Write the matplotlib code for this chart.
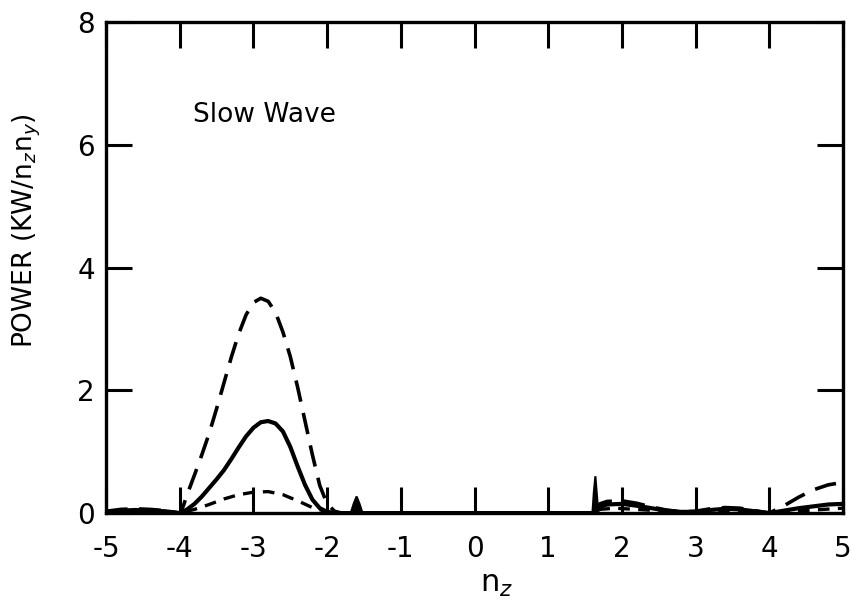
import matplotlib
matplotlib.use("Agg")
import matplotlib.pyplot as plt

plt.rcParams['axes.unicode_minus'] = False
plt.rcParams['font.family'] = ['DejaVu Sans']

# long-dashed curve (largest)
x_long = [-5.0, -4.8, -4.6, -4.4, -4.2, -4.0, -3.95, -3.9, -3.8, -3.7, -3.6, -3.5, -3.4, -3.3, -3.2, -3.1,
          -3.0, -2.9, -2.8, -2.7, -2.6, -2.5, -2.4, -2.3, -2.2, -2.1, -2.0, -1.9, -1.8,
          1.6, 1.7, 1.8, 2.0, 2.2, 2.4, 2.6, 2.8, 3.0, 3.2, 3.4, 3.6, 3.8, 4.0,
          4.2, 4.4, 4.6, 4.8, 5.0]
y_long = [0.03, 0.06, 0.07, 0.06, 0.04, 0.0, 0.12, 0.3, 0.62, 0.95, 1.3, 1.7, 2.12, 2.54, 2.92, 3.23,
          3.43, 3.5, 3.45, 3.27, 2.95, 2.55, 2.05, 1.5, 0.95, 0.45, 0.15, 0.03, 0.0,
          0.0, 0.15, 0.19, 0.2, 0.16, 0.1, 0.05, 0.02, 0.03, 0.07, 0.09, 0.08, 0.04, 0.0,
          0.12, 0.26, 0.38, 0.46, 0.5]

# solid curve
x_solid = [-5.0, -4.8, -4.6, -4.4, -4.2, -4.0, -3.9, -3.8, -3.7, -3.6, -3.5, -3.4, -3.3, -3.2, -3.1,
           -3.0, -2.9, -2.8, -2.7, -2.6, -2.5, -2.4, -2.3, -2.2, -2.1, -2.0, -1.9,
           1.6, 1.7, 1.8, 2.0, 2.2, 2.4, 2.6, 2.8, 3.0, 3.2, 3.4, 3.6, 3.8, 4.0,
           4.2, 4.4, 4.6, 4.8, 5.0]
y_solid = [0.02, 0.04, 0.05, 0.04, 0.03, 0.0, 0.06, 0.15, 0.27, 0.41, 0.55, 0.7, 0.88, 1.07, 1.25,
           1.39, 1.48, 1.5, 1.46, 1.33, 1.08, 0.76, 0.46, 0.22, 0.08, 0.02, 0.0,
           0.0, 0.1, 0.14, 0.15, 0.12, 0.08, 0.04, 0.02, 0.02, 0.05, 0.07, 0.06, 0.03, 0.0,
           0.04, 0.08, 0.11, 0.14, 0.15]

# short-dashed curve (smallest)
x_short = [-5.0, -4.6, -4.2, -4.0, -3.8, -3.6, -3.4, -3.2, -3.0, -2.8, -2.6, -2.4, -2.2, -2.0, -1.9,
           1.6, 1.7, 1.9, 2.2, 2.6, 3.0, 3.4, 3.8, 4.0, 4.3, 4.6, 5.0]
y_short = [0.01, 0.03, 0.02, 0.0, 0.06, 0.14, 0.23, 0.3, 0.34, 0.35, 0.3, 0.2, 0.09, 0.02, 0.0,
           0.0, 0.06, 0.08, 0.06, 0.03, 0.01, 0.03, 0.02, 0.0, 0.03, 0.05, 0.08]

# narrow spikes
spike_x = [[-1.68, -1.64, -1.6, -1.56, -1.52], [1.6, 1.62, 1.64, 1.66, 1.68]]
spike_y = [[0.0, 0.15, 0.27, 0.15, 0.0], [0.0, 0.35, 0.6, 0.3, 0.0]]

fig = plt.figure(figsize=(8.51, 6.13), dpi=100)
ax = fig.add_axes([0.1246, 0.163, 0.866, 0.801])

ax.plot(x_long, y_long, color='black', lw=2.6, dashes=(6, 3.2))
ax.plot(x_solid, y_solid, color='black', lw=3.0)
ax.plot(x_short, y_short, color='black', lw=2.4, dashes=(3.5, 2.5))
for sx, sy in zip(spike_x, spike_y):
    ax.fill(sx, sy, color='black', lw=1.5)

ax.set_xlim(-5, 5)
ax.set_ylim(0, 8)
ax.set_xticks(range(-5, 6))
ax.set_xticklabels([str(i) for i in range(-5, 6)])
ax.set_yticks([0, 2, 4, 6, 8])
ax.tick_params(direction='in', length=19, width=2.2, labelsize=20,
               top=True, right=True)
ax.tick_params(axis='x', pad=16)
ax.tick_params(axis='y', pad=8)
for s in ax.spines.values():
    s.set_linewidth(2.4)

ax.text(-3.82, 6.37, 'Slow Wave', fontsize=19)
ax.set_ylabel('POWER (KW/n$_{z}$n$_{y}$)', fontsize=19)
ax.yaxis.set_label_coords(-0.086, 0.576)
ax.set_xlabel('n$_{z}$', fontsize=22)
ax.xaxis.set_label_coords(0.53, -0.115)

fig.savefig('out.png', dpi=100)
